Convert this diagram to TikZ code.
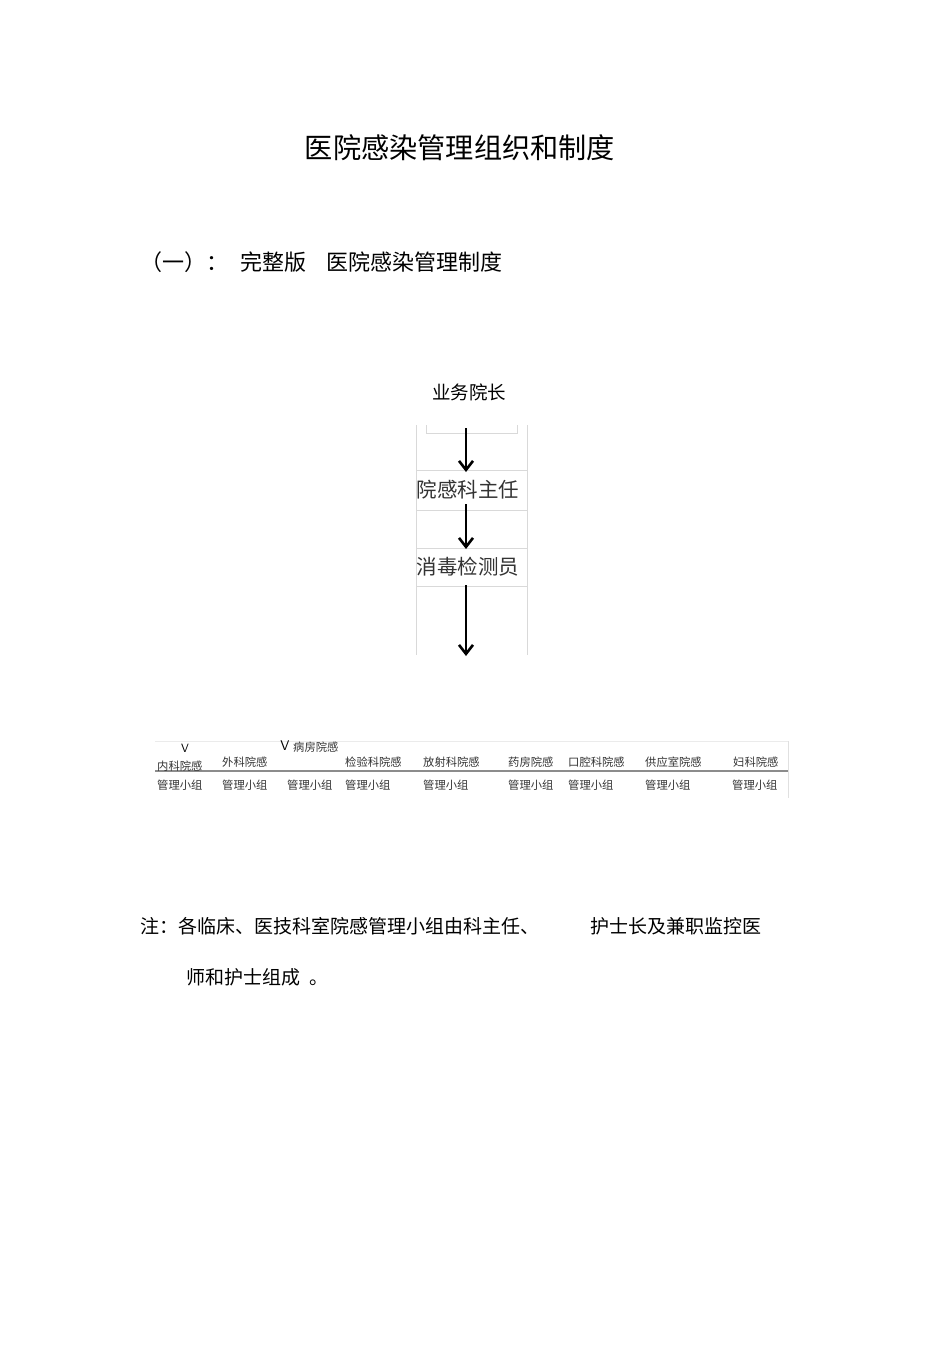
\documentclass[tikz,border=0pt]{standalone}
\usepackage{fontspec}
\setmainfont{Liberation Serif}
\newfontfamily\cjk{Noto Sans CJK SC}
\usetikzlibrary{arrows.meta}
\begin{document}
\begin{tikzpicture}[x=1pt,y=-1pt,
  txt/.style={inner sep=0pt,anchor=west,font=\cjk},
  cell/.style={inner sep=0pt,anchor=west,font=\cjk\fontsize{11.3}{12}\selectfont,text=black!80},
  frame/.style={draw=black!15,line width=0.8pt},
  arr/.style={line width=2.6pt,-{Straight Barb[length=9pt,width=14pt,line width=2.6pt]}}]
\useasboundingbox[fill=white] (0,0) rectangle (950,1345);
% title
\node[txt,anchor=center,font=\cjk\fontsize{28.2}{30}\selectfont] (title) at (460,148) {医院感染管理组织和制度};
\node[txt,font=\cjk\fontsize{22}{24}\selectfont] (sub1) at (140,262) {（一）：};
\node[txt,font=\cjk\fontsize{22}{24}\selectfont] (sub2) at (240,262) {完整版};
\node[txt,font=\cjk\fontsize{22}{24}\selectfont] (sub3) at (326,262) {医院感染管理制度};
\node[txt,anchor=center,font=\cjk\fontsize{18.5}{20}\selectfont] (vp) at (469,392) {业务院长};
% chart screenshot
\draw[frame] (416,425) -- (416,655);
\draw[frame] (527,425) -- (527,655);
\draw[frame] (426,425) -- (426,433) -- (517,433) -- (517,425);
\draw[frame] (416,470) -- (527,470);
\draw[frame] (416,510) -- (527,510);
\draw[frame] (416,548) -- (527,548);
\draw[frame] (416,586) -- (527,586);
\node[txt,anchor=center,font=\cjk\fontsize{20.5}{22}\selectfont,text=black!80] (dir) at (468,490) {院感科主任};
\node[txt,anchor=center,font=\cjk\fontsize{20.5}{22}\selectfont,text=black!80] (ins) at (468,567) {消毒检测员};
\coordinate (c0) at (466,428);
\coordinate (c1) at (466,472);
\coordinate (c2) at (466,504);
\coordinate (c3) at (466,549);
\coordinate (c4) at (466,585);
\coordinate (c5) at (466,656);
\draw[arr] (c0) -- (c1);
\draw[arr] (c2) -- (c3);
\draw[arr] (c4) -- (c5);
% table
\draw[draw=black!8,line width=0.8pt] (155,741) -- (788,741);
\draw[draw=black!12,line width=0.8pt] (788,741) -- (788,798);
\draw[draw=black!45,line width=1.6pt] (155,771) -- (788,771);
\node[inner sep=0pt,font=\sffamily\fontsize{12}{12}\selectfont] (v1) at (185,748) {V};
\node[inner sep=0pt,font=\sffamily\fontsize{14}{14}\selectfont] (v2) at (285,746) {V};
\node[cell] (h1) at (157,766) {内科院感};
\node[cell] (h2) at (222,762) {外科院感};
\node[cell] (h3) at (293,747) {病房院感};
\node[cell] (h4) at (345,762) {检验科院感};
\node[cell] (h5) at (423,762) {放射科院感};
\node[cell] (h6) at (508,762) {药房院感};
\node[cell] (h7) at (568,762) {口腔科院感};
\node[cell] (h8) at (645,762) {供应室院感};
\node[cell] (h9) at (733,762) {妇科院感};
\foreach \x [count=\i] in {157,222,287,345,423,508,568,645,732}
  \node[cell] (g\i) at (\x,785) {管理小组};
% note
\node[txt,font=\cjk\fontsize{19}{22}\selectfont] (n1) at (140,926) {注：各临床、医技科室院感管理小组由科主任、};
\node[txt,font=\cjk\fontsize{19}{22}\selectfont] (n2) at (590,926) {护士长及兼职监控医};
\node[txt,font=\cjk\fontsize{19}{22}\selectfont] (n3) at (186,977) {师和护士组成\enspace 。};
\end{tikzpicture}
\end{document}
